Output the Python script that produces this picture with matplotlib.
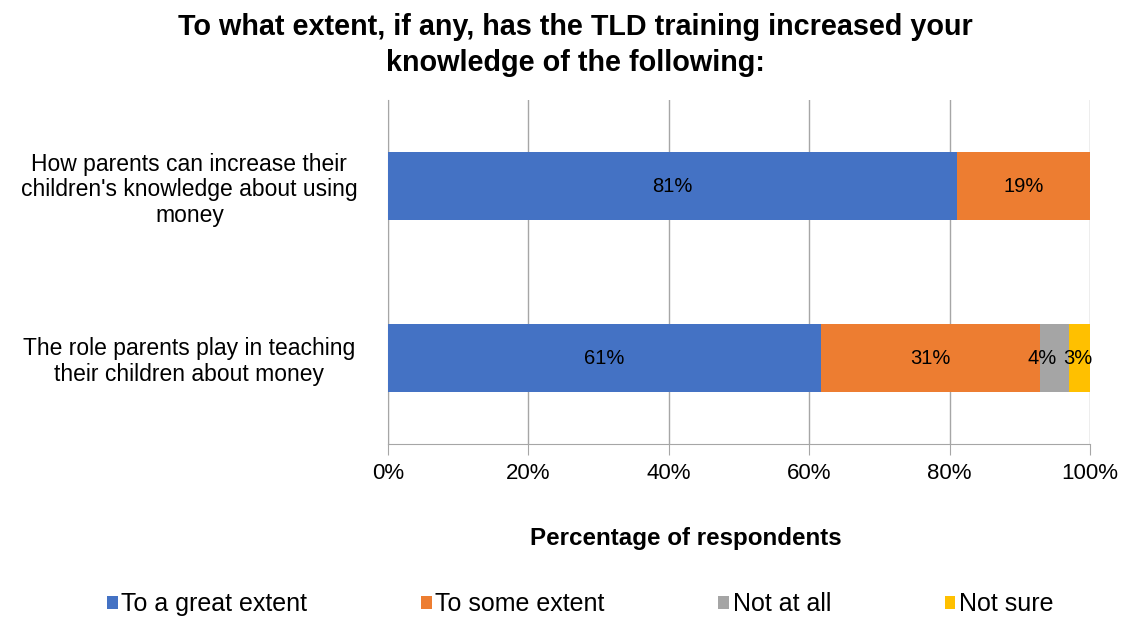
import numpy as np
import matplotlib.pyplot as plt
from matplotlib.patches import Patch

plt.rcParams['font.family'] = ['Liberation Sans', 'DejaVu Sans']

# survey answers, share of respondents (%) per statement
statements = ["How parents can increase their\nchildren's knowledge about using\nmoney",
              "The role parents play in teaching\ntheir children about money"]
responses = ["To a great extent", "To some extent", "Not at all", "Not sure"]
great = [81, 61]
some = [19, 31]
not_at_all = [0, 4]
not_sure = [0, 3]
colors = ["#4472C4", "#ED7D31", "#A5A5A5", "#FFC000"]

data = np.array([great, some, not_at_all, not_sure], dtype=float)
# 100% stacked: each row scaled to its own total
shares = data / data.sum(axis=0) * 100

fig = plt.figure(figsize=(11.26, 6.17), dpi=100)
ax = fig.add_axes([388 / 1126, 1 - 444 / 617, 702 / 1126, 344 / 617])

# nudge labels of the thin segments apart so they don't collide
label_nudge = {2: -9, 3: -1}

y = np.arange(len(statements))
left = np.zeros(len(statements))
for i, name in enumerate(responses):
    ax.barh(y, shares[i], left=left, height=0.39, color=colors[i], zorder=3)
    for j in range(len(statements)):
        if data[i, j] > 0:
            dx = label_nudge.get(i, 0) if shares[i, j] < 6 else 0
            ax.annotate(f"{data[i, j]:.0f}%", (left[j] + shares[i, j] / 2, y[j]),
                        xytext=(dx, 0), textcoords="offset points",
                        ha="center", va="center", fontsize=14.5, zorder=4)
    left += shares[i]

ax.set_xlim(0, 100)
ax.set_ylim(len(statements) - 0.5, -0.5)
ax.set_yticks(y)
ax.set_yticklabels(statements, fontsize=16.5, ha="center", linespacing=1.15)
ax.tick_params(axis="y", length=0, pad=143)
ax.set_xticks(np.arange(0, 101, 20))
ax.set_xticklabels([f"{v}%" for v in range(0, 101, 20)], fontsize=16)
ax.tick_params(axis="x", length=8, color="#A6A6A6", pad=6)
ax.grid(axis="x", color="#A6A6A6", linewidth=1, zorder=0)
for side in ["top", "right"]:
    ax.spines[side].set_visible(False)
for side in ["left", "bottom"]:
    ax.spines[side].set_color("#A6A6A6")

fig.text(575 / 1126, 1 - 45 / 617,
         "To what extent, if any, has the TLD training increased your\nknowledge of the following:",
         ha="center", va="center", fontsize=20.7, fontweight="bold", linespacing=1.38)
fig.text(686 / 1126, 1 - 538 / 617, "Percentage of respondents",
         ha="center", va="center", fontsize=17.4, fontweight="bold")

handles = [Patch(facecolor=c, edgecolor="none") for c in colors]
fig.legend(handles, responses, loc="center left", bbox_to_anchor=(107 / 1126, 1 - 604 / 617),
           ncol=4, frameon=False, fontsize=18, handlelength=0.42, handleheight=0.42,
           handletextpad=0.15, columnspacing=4.55, borderaxespad=0, borderpad=0)

fig.savefig("out.png", dpi=100)
